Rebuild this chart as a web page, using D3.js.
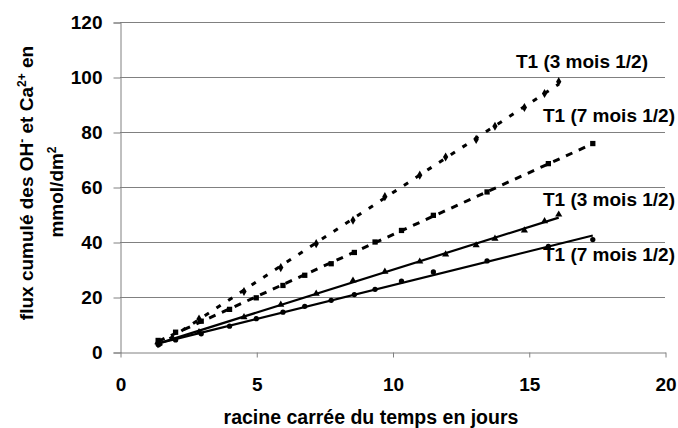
<!DOCTYPE html>
<html>
<head>
<meta charset="utf-8">
<script src="https://cdn.jsdelivr.net/npm/d3@7"></script>
<style>
  html, body { margin: 0; padding: 0; background: #fff; }
  svg { display: block; }
  text { font-family: "Liberation Sans", Arial, sans-serif; font-weight: bold; fill: #000; }
</style>
</head>
<body>
<svg id="chart" width="678" height="428"></svg>
<script>
// ---- data ----
const x3 = [1.39, 2.9, 4.55, 5.9, 7.2, 8.55, 9.72, 11.0, 11.95, 13.07, 13.76, 14.84, 15.58, 16.1];
const dotted3 = [3.0, 12.0, 22.0, 30.7, 39.4, 47.9, 56.5, 64.3, 70.9, 77.3, 82.1, 88.9, 94.0, 98.3];
const solid3 = [3.6, 7.2, 12.7, 17.2, 21.2, 26.0, 29.2, 32.9, 35.5, 38.8, 41.2, 44.2, 47.6, 50.0];
const x7 = [1.4, 2.04, 2.98, 4.02, 5.0, 5.98, 6.78, 7.75, 8.6, 9.36, 10.33, 11.5, 13.47, 15.72, 17.35];
const dashed7 = [4.2, 7.2, 11.2, 15.5, 19.7, 24.2, 27.9, 32.1, 36.2, 40.0, 44.2, 49.7, 58.2, 68.5, 75.8];
const solid7 = [2.7, 4.4, 6.6, 9.4, 12.1, 14.5, 16.6, 18.8, 20.9, 22.8, 25.8, 29.1, 33.1, 38.4, 40.9];
const seriesLabels = ["T1 (3 mois 1/2)", "T1 (7 mois 1/2)", "T1 (3 mois 1/2)", "T1 (7 mois 1/2)"];
const xTicks = [0, 5, 10, 15, 20];
const yTicks = [0, 20, 40, 60, 80, 100, 120];
const xTitle = "racine carrée du temps en jours";

// ---- layout ----
const svg = d3.select("#chart");
const L = 120, R = 665, T = 22, B = 352;
const x = d3.scaleLinear().domain([0, 20]).range([L, R]);
const y = d3.scaleLinear().domain([0, 120]).range([B, T]);
const gridColor = "#808080";
const FS = "19px";

// gridlines
svg.append("g").selectAll("line").data(yTicks.filter(d => d > 0)).join("line")
  .attr("x1", L).attr("x2", R)
  .attr("y1", d => Math.round(y(d)) + 0.5).attr("y2", d => Math.round(y(d)) + 0.5)
  .attr("stroke", gridColor).attr("stroke-width", 1);

// y axis
const yAxis = svg.append("g").attr("transform", `translate(${L + 0.5},0.5)`)
  .call(d3.axisLeft(y).tickValues(yTicks).tickSize(7).tickPadding(11).tickFormat(d3.format("d")));
yAxis.select(".domain").attr("stroke", gridColor);
yAxis.selectAll(".tick line").attr("stroke", gridColor);
yAxis.selectAll(".tick text").style("font-size", FS).style("font-family", "Liberation Sans, Arial, sans-serif").style("font-weight", "bold").attr("fill", "#000");

// x axis
const xAxis = svg.append("g").attr("transform", `translate(0.5,${B + 0.5})`)
  .call(d3.axisBottom(x).tickValues(xTicks).tickSize(5).tickSizeOuter(0).tickPadding(20).tickFormat(d3.format("d")));
xAxis.select(".domain").attr("stroke", gridColor);
xAxis.selectAll(".tick line").attr("stroke", gridColor);
xAxis.selectAll(".tick text").style("font-size", FS).style("font-family", "Liberation Sans, Arial, sans-serif").style("font-weight", "bold").attr("fill", "#000");

// trend lines (least squares) + markers
function fit(xs, ys) {
  const n = xs.length, mx = d3.mean(xs), my = d3.mean(ys);
  let sxy = 0, sxx = 0;
  for (let i = 0; i < n; i++) { sxy += (xs[i] - mx) * (ys[i] - my); sxx += (xs[i] - mx) ** 2; }
  const m = sxy / sxx, b = my - m * mx;
  const x0 = d3.min(xs), x1 = d3.max(xs);
  return [[x0, m * x0 + b], [x1, m * x1 + b]];
}
const series = [
  {xs: x3, ys: dotted3, dash: "5,9", width: 3, symbol: d3.symbolDiamond, size: 24},
  {xs: x7, ys: dashed7, dash: "7,7", width: 3, symbol: d3.symbolSquare, size: 28},
  {xs: x3, ys: solid3, dash: null, width: 2.2, symbol: d3.symbolTriangle, size: 22},
  {xs: x7, ys: solid7, dash: null, width: 2.2, symbol: d3.symbolCircle, size: 22}
];
const lineGen = d3.line().x(d => x(d[0])).y(d => y(d[1]));
series.forEach(s => {
  const pts = s.xs.map((v, i) => [v, s.ys[i]]);
  svg.append("path").datum(fit(s.xs, s.ys)).attr("d", lineGen)
    .attr("fill", "none").attr("stroke", "#000").attr("stroke-width", s.width)
    .attr("stroke-dasharray", s.dash);
  svg.append("g").selectAll("path").data(pts).join("path")
    .attr("transform", d => `translate(${x(d[0])},${y(d[1])})`)
    .attr("d", d3.symbol().type(s.symbol).size(s.size)).attr("fill", "#000");
});

// series labels
const labelPos = [[516, 68], [543, 122], [543, 206], [543, 261]];
svg.append("g").selectAll("text").data(seriesLabels).join("text")
  .attr("x", (d, i) => labelPos[i][0]).attr("y", (d, i) => labelPos[i][1])
  .style("font-size", "19px").text(d => d);

// x title
svg.append("text").attr("x", 371).attr("y", 424).attr("text-anchor", "middle")
  .style("font-size", "19.5px").text(xTitle);

// y title (two lines, rotated)
const t1 = svg.append("text").attr("transform", "translate(33,183) rotate(-90)")
  .attr("text-anchor", "middle").style("font-size", "19px");
t1.append("tspan").text("flux cumulé des OH");
t1.append("tspan").attr("dy", -7).style("font-size", "12px").text("-");
t1.append("tspan").attr("dy", 7).text(" et Ca");
t1.append("tspan").attr("dy", -7).style("font-size", "12px").text("2+");
t1.append("tspan").attr("dy", 7).text(" en");
const t2 = svg.append("text").attr("transform", "translate(63,192) rotate(-90)")
  .attr("text-anchor", "middle").style("font-size", "19px");
t2.append("tspan").text("mmol/dm");
t2.append("tspan").attr("dy", -7).style("font-size", "12px").text("2");
</script>
</body>
</html>
